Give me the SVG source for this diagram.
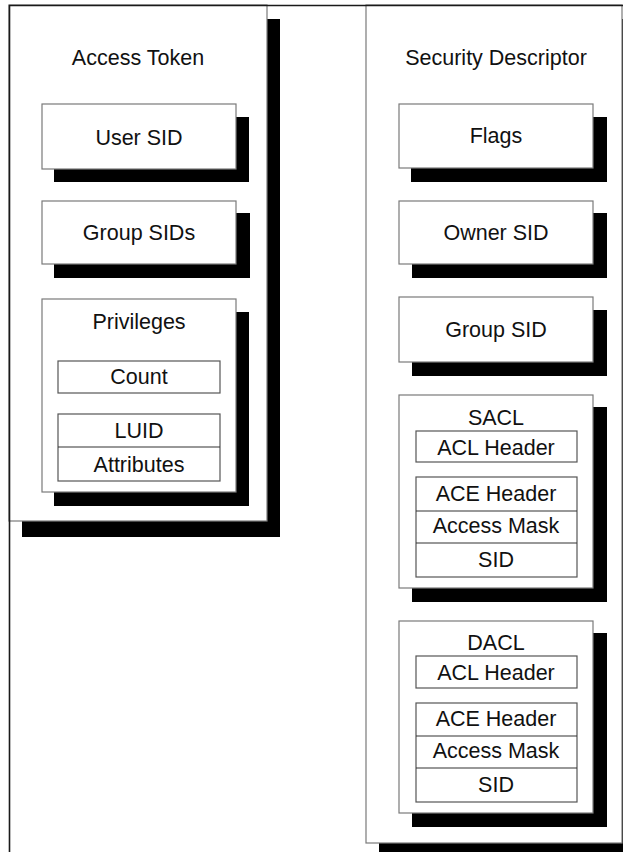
<svg xmlns="http://www.w3.org/2000/svg" width="623" height="852" viewBox="0 0 623 852">
<style>
.sh{fill:#000}
.box{fill:#fff;stroke:#7a7a7a;stroke-width:1.2}
.cell{fill:#fff;stroke:#555;stroke-width:1.2}
.div{stroke:#333;stroke-width:1.2}
text{font-family:"Liberation Sans",Arial,sans-serif;font-size:21.5px;fill:#111;text-anchor:middle}
</style>
<rect x="0" y="0" width="623" height="852" fill="#fff"/>
<g id="access-token">
<rect class="sh" x="22" y="19" width="258" height="518"/>
<rect class="box" x="9" y="5" width="258" height="516"/>
<text x="138" y="65">Access Token</text>
</g>
<g id="user-sid">
<rect class="sh" x="54" y="117" width="195" height="65"/>
<rect class="box" x="42" y="104" width="194" height="65"/>
<text x="139" y="145">User SID</text>
</g>
<g id="group-sids">
<rect class="sh" x="54" y="213" width="196" height="65"/>
<rect class="box" x="42" y="201" width="194" height="63"/>
<text x="139" y="240">Group SIDs</text>
</g>
<g id="privileges">
<rect class="sh" x="54" y="312" width="195" height="194"/>
<rect class="box" x="42" y="299" width="194" height="193"/>
<text x="139" y="329">Privileges</text>
<rect class="cell" x="58" y="361" width="162" height="32"/>
<text x="139" y="384">Count</text>
<rect class="cell" x="58" y="414" width="162" height="67"/>
<line class="div" x1="58" y1="447" x2="220" y2="447"/>
<text x="139" y="438">LUID</text>
<text x="139" y="472">Attributes</text>
</g>
<g id="security-descriptor">
<rect class="sh" x="379" y="19" width="260" height="840"/>
<rect class="box" x="366" y="5" width="256" height="838"/>
<text x="496" y="65">Security Descriptor</text>
</g>
<g id="flags">
<rect class="sh" x="411" y="117" width="196" height="65"/>
<rect class="box" x="399" y="104" width="194" height="64"/>
<text x="496" y="143">Flags</text>
</g>
<g id="owner-sid">
<rect class="sh" x="412" y="213" width="195" height="65"/>
<rect class="box" x="399" y="201" width="194" height="63"/>
<text x="496" y="240">Owner SID</text>
</g>
<g id="group-sid">
<rect class="sh" x="412" y="310" width="195" height="66"/>
<rect class="box" x="399" y="297" width="194" height="65"/>
<text x="496" y="337">Group SID</text>
</g>
<g id="sacl">
<rect class="sh" x="412" y="407" width="195" height="195"/>
<rect class="box" x="399" y="395" width="194" height="193"/>
<text x="496" y="425">SACL</text>
<rect class="cell" x="416" y="431" width="161" height="31"/>
<text x="496" y="455">ACL Header</text>
<rect class="cell" x="416" y="477" width="161" height="100"/>
<line class="div" x1="416" y1="511" x2="577" y2="511"/>
<line class="div" x1="416" y1="543" x2="577" y2="543"/>
<text x="496" y="501">ACE Header</text>
<text x="496" y="533">Access Mask</text>
<text x="496" y="567">SID</text>
</g>
<g id="dacl">
<rect class="sh" x="412" y="633" width="195" height="194"/>
<rect class="box" x="399" y="621" width="194" height="192"/>
<text x="496" y="650">DACL</text>
<rect class="cell" x="416" y="656" width="161" height="32"/>
<text x="496" y="680">ACL Header</text>
<rect class="cell" x="416" y="703" width="161" height="99"/>
<line class="div" x1="416" y1="736" x2="577" y2="736"/>
<line class="div" x1="416" y1="768" x2="577" y2="768"/>
<text x="496" y="726">ACE Header</text>
<text x="496" y="758">Access Mask</text>
<text x="496" y="792">SID</text>
</g>
<g id="connectors"></g>
<g id="frame">
<path d="M9.5,852 V5.5 H623" fill="none" stroke="#1a1a1a" stroke-width="1.6"/>
</g>
</svg>
